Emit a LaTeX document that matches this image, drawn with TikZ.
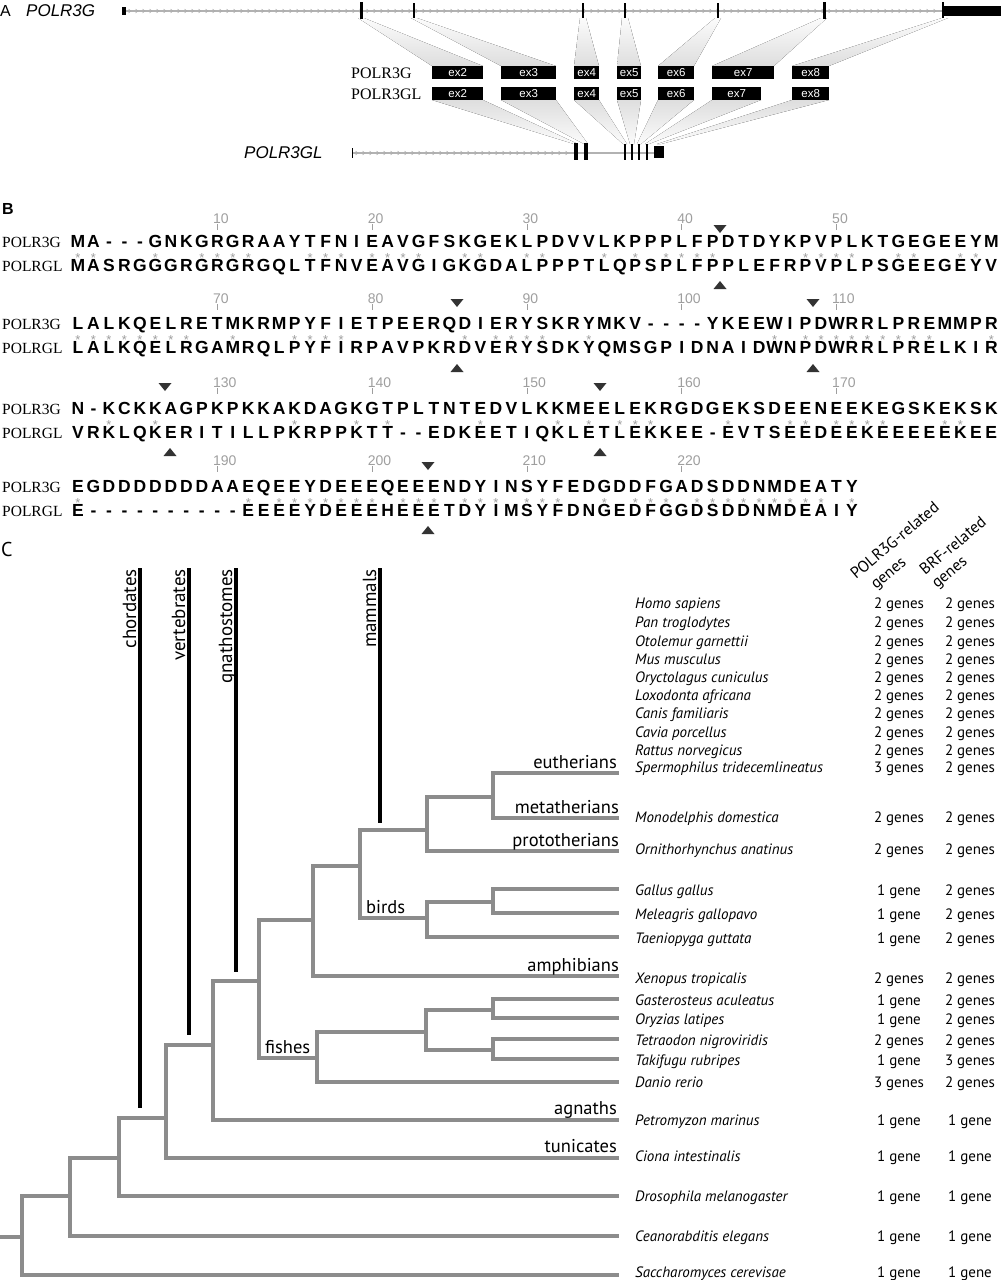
\documentclass[tikz,border=0pt]{standalone}
\usepackage{fontspec}
\setmainfont{Liberation Serif}
\newfontfamily\hv{Liberation Sans}
\newfontfamily\pts{PT Sans}
\definecolor{treegray}{gray}{0.55}
\definecolor{rulegray}{gray}{0.62}
\def\gapchar{-}
% #1 = name tag, #2 = baseline of first row, #3 = residue pairs
\newcommand\alnblock[3]{%
  \foreach \ra/\rb [count=\i] in {#3} {%
    \pgfmathsetmacro\cx{78+(\i-1)*15.48}%
    \node[res] (p#1-\i) at (\cx,#2) {\ra};%
    \node[res] (q#1-\i) at (\cx,#2+24) {\rb};%
    \ifx\ra\rb\ifx\ra\gapchar\else\node[idstar] (r#1-\i) at (\cx,#2+15) {*};\fi\fi
  }}
% #1 = baseline of number, #2 = column, #3 = number
\newcommand\rulerno[3]{%
  \pgfmathsetmacro\cx{78+(#2-1)*15.48}%
  \draw[rulegray, line width=0.8] (\cx,#1+1) -- (\cx,#1+7);
  \node[rulenum] (n#3) at (\cx-4.5,#1) {#3};}
\newcommand\tridown[2]{\fill[black!80] (#1-6.5,#2-4) -- (#1+6.5,#2-4) -- (#1,#2+4) -- cycle;}
\newcommand\triup[2]{\fill[black!80] (#1-6.5,#2+4) -- (#1+6.5,#2+4) -- (#1,#2-4) -- cycle;}
\begin{document}
\begin{tikzpicture}[x=1pt,y=-1pt,
  res/.style={font=\hv\bfseries\fontsize{17.5}{19}\selectfont, anchor=base, inner sep=0pt},
  idstar/.style={font=\hv\fontsize{13}{14}\selectfont, text=rulegray, anchor=base, inner sep=0pt},
  rulenum/.style={font=\hv\fontsize{14}{15}\selectfont, text=rulegray, anchor=base west, inner sep=0pt},
  seqname/.style={font=\fontsize{15.5}{16}\selectfont, anchor=base west, inner sep=0pt},
  boxname/.style={font=\fontsize{16}{17}\selectfont, anchor=base west, inner sep=0pt},
  genename/.style={font=\hv\itshape\fontsize{17}{18}\selectfont, anchor=base west, inner sep=0pt},
  exlabel/.style={font=\hv\fontsize{11.5}{12}\selectfont, text=white, fill=black, inner sep=0pt, minimum height=13pt, anchor=north west},
  panel/.style={font=\hv\fontsize{16}{17}\selectfont, anchor=base west, inner sep=0pt},
  treeline/.style={draw=treegray, line width=3.2pt, line cap=rect},
  bar/.style={draw=black, line width=3.2pt},
  vlabel/.style={font=\pts\fontsize{19}{20}\selectfont, rotate=90, anchor=base east, inner sep=0pt},
  clade/.style={font=\pts\fontsize{18.5}{19}\selectfont, anchor=base east, inner sep=0pt},
  cladel/.style={font=\pts\fontsize{18.5}{19}\selectfont, anchor=base west, inner sep=0pt},
  species/.style={font=\pts\itshape\fontsize{15}{16}\selectfont, anchor=base west, inner sep=0pt},
  count/.style={font=\pts\fontsize{15}{16}\selectfont, anchor=base, inner sep=0pt},
  hdr/.style={font=\pts\fontsize{16}{17}\selectfont, rotate=40, anchor=base west, inner sep=0pt}
]
\useasboundingbox (0,0) rectangle (1005,1280);

% ================= Panel A =================
\node[panel] (labA) at (0,16) {A};
\node[genename] (g1) at (26,16) {POLR3G};
% fans top
\foreach \ex/\l/\r in {361/432/483, 414/501/556, 583/574/599, 625/617/641, 718/658/694, 824/712/774, 945/792/829}
  {\fill[top color=gray!3, bottom color=gray!26] (\ex-3,18) -- (\ex+3,18) -- (\r,66) -- (\l,66) -- cycle;}
% fans bottom
\foreach \bx/\l/\r in {576/432/483, 586/501/556, 625/574/599, 632/617/641, 639/658/694, 647/712/761, 659/792/829}
  {\fill[top color=gray!26, bottom color=gray!3] (\l,100) -- (\r,100) -- (\bx+2,144) -- (\bx-2,144) -- cycle;}
% top gene
\draw[gray!60, line width=1.2] (124,11) -- (945,11);
\foreach \x in {130,137,...,940} {\draw[gray!65, line width=0.5] (\x-1.5,9) -- (\x+1,11) -- (\x-1.5,13);}
\fill (122,7) rectangle (126,15);
\fill (359.5,2) rectangle (363,19);
\fill (822.5,2) rectangle (826,19);
\foreach \x in {414,583,625,718} {\draw[line width=1.3] (\x,3) -- (\x,18);}
\draw[line width=1.3] (943,2) -- (943,18);
\fill (943,6) rectangle (1001,16);
% exon boxes
\node[boxname] (r1) at (351,78) {POLR3G};
\node[boxname] (r2) at (351,99) {POLR3GL};
\foreach \n/\l/\r in {2/432/483, 3/501/556, 4/574/599, 5/617/641, 6/658/694, 7/712/774, 8/792/829}{
  \pgfmathsetmacro\w{\r-\l}
  \node[exlabel, minimum width=\w pt] (ga\n) at (\l,66) {ex\n};}
\foreach \n/\l/\r in {2/432/483, 3/501/556, 4/574/599, 5/617/641, 6/658/694, 7/712/761, 8/792/829}{
  \pgfmathsetmacro\w{\r-\l}
  \node[exlabel, minimum width=\w pt] (gb\n) at (\l,87) {ex\n};}
% bottom gene
\node[genename] (g2) at (244,158) {POLR3GL};
\draw[gray!60, line width=1.2] (352,153) -- (656,153);
\foreach \x in {357,364,...,570} {\draw[gray!65, line width=0.5] (\x-1.5,151) -- (\x+1,153) -- (\x-1.5,155);}
\draw[line width=1] (352,148) -- (352,158);
\fill (573.5,143) rectangle (578,160);
\fill (584,143) rectangle (588,160);
\foreach \x in {625,632,639,647} {\draw[line width=1.3] (\x,144) -- (\x,160);}
\fill (654,146) rectangle (664,158);

% ================= Panel B =================
\node[font=\hv\bfseries\fontsize{16}{17}\selectfont, anchor=base west, inner sep=0pt] (labB) at (2,214) {B};
\foreach \yb in {247,329,414,492}{
  \node[seqname] (na\yb) at (2,\yb) {POLR3G};
  \node[seqname] (nb\yb) at (2,\yb+24) {POLRGL};}
\alnblock{a}{247}{M/M,A/A,-/S,-/R,-/G,G/G,N/G,K/R,G/G,R/R,G/G,R/R,A/G,A/Q,Y/L,T/T,F/F,N/N,I/V,E/E,A/A,V/V,G/G,F/I,S/G,K/K,G/G,E/D,K/A,L/L,P/P,D/P,V/P,V/T,L/L,K/Q,P/P,P/S,P/P,L/L,F/F,P/P,D/P,T/L,D/E,Y/F,K/R,P/P,V/V,P/P,L/L,K/P,T/S,G/G,E/E,G/E,E/G,E/E,Y/Y,M/V}
\alnblock{b}{329}{L/L,A/A,L/L,K/K,Q/Q,E/E,L/L,R/R,E/G,T/A,M/M,K/R,R/Q,M/L,P/P,Y/Y,F/F,I/I,E/R,T/P,P/A,E/V,E/P,R/K,Q/R,D/D,I/V,E/E,R/R,Y/Y,S/S,K/D,R/K,Y/Y,M/Q,K/M,V/S,-/G,-/P,-/I,-/D,Y/N,K/A,E/I,E/D,W/W,I/N,P/P,D/D,W/W,R/R,R/R,L/L,P/P,R/R,E/E,M/L,M/K,P/I,R/R}
\alnblock{c}{414}{N/V,-/R,K/K,C/L,K/Q,K/K,A/E,G/R,P/I,K/T,P/I,K/L,K/L,A/P,K/K,D/R,A/P,G/P,K/K,G/T,T/T,P/-,L/-,T/E,N/D,T/K,E/E,D/E,V/T,L/I,K/Q,K/K,M/L,E/E,E/T,L/L,E/E,K/K,R/K,G/E,D/E,G/-,E/E,K/V,S/T,D/S,E/E,E/E,N/D,E/E,E/E,K/K,E/E,G/E,S/E,K/E,E/E,K/K,S/E,K/E}
\alnblock{d}{492}{E/E,G/-,D/-,D/-,D/-,D/-,D/-,D/-,D/-,A/-,A/-,E/E,Q/E,E/E,E/E,Y/Y,D/D,E/E,E/E,E/E,Q/H,E/E,E/E,E/E,N/T,D/D,Y/Y,I/I,N/M,S/S,Y/Y,F/F,E/D,D/N,G/G,D/E,D/D,F/F,G/G,A/G,D/D,S/S,D/D,D/D,N/N,M/M,D/D,E/E,A/A,T/I,Y/Y}
\foreach \c/\n in {10/10,20/20,30/30,40/40,50/50} {\rulerno{223}{\c}{\n}}
\foreach \c/\n in {10/70,20/80,30/90,40/100,50/110} {\rulerno{303}{\c}{\n}}
\foreach \c/\n in {10/130,20/140,30/150,40/160,50/170} {\rulerno{387}{\c}{\n}}
\foreach \c/\n in {10/190,20/200,30/210,40/220} {\rulerno{465}{\c}{\n}}
\tridown{720}{229} \triup{720}{285}
\tridown{457}{303} \triup{457}{368}
\tridown{813}{303} \triup{813}{368}
\tridown{165}{387} \triup{170}{452}
\tridown{600}{387} \triup{600}{452}
\tridown{428}{466} \triup{428}{530}

% ================= Panel C =================
\node[font=\pts\fontsize{20}{21}\selectfont, anchor=base west, inner sep=0pt] (labC) at (1,556) {C};
% tree
\draw[treeline] (617,773) -| (493,818) -- (617,818);
\draw[treeline] (493,797) -| (427,851) -- (617,851);
\draw[treeline] (617,889) -| (493,913) -- (617,913);
\draw[treeline] (493,902) -| (427,937) -- (617,937);
\draw[treeline] (427,830) -| (360,918) -- (427,918);
\draw[treeline] (360,866) -| (313,976) -- (617,976);
\draw[treeline] (617,999) -| (493,1018) -- (617,1018);
\draw[treeline] (617,1039) -| (493,1059) -- (617,1059);
\draw[treeline] (493,1010) -| (426,1050) -- (493,1050);
\draw[treeline] (426,1032) -| (317,1082) -- (617,1082);
\draw[treeline] (313,920) -| (259,1058) -- (317,1058);
\draw[treeline] (259,981) -| (213,1120) -- (617,1120);
\draw[treeline] (213,1045) -| (166,1158) -- (617,1158);
\draw[treeline] (166,1118) -| (119,1196) -- (617,1196);
\draw[treeline] (119,1158) -| (70,1236) -- (617,1236);
\draw[treeline] (70,1196) -| (22,1275) -- (617,1275);
\draw[treeline] (2,1237) -- (22,1237);
% bars
\draw[bar] (140,568) -- (140,1108);
\draw[bar] (189,568) -- (189,1035);
\draw[bar] (236,568) -- (236,972);
\draw[bar] (380,568) -- (380,823);
\node[vlabel] (vc) at (136,569) {chordates};
\node[vlabel] (vv) at (185,569) {vertebrates};
\node[vlabel] (vg) at (232,569) {gnathostomes};
\node[vlabel] (vm) at (376,569) {mammals};
% clade labels
\node[clade] (ce) at (617,768) {eutherians};
\node[clade] (cm) at (619,813) {metatherians};
\node[clade] (cp) at (619,846) {prototherians};
\node[clade] (ca) at (619,971) {amphibians};
\node[clade] (cg) at (617,1114) {agnaths};
\node[clade] (ct) at (617,1152) {tunicates};
\node[cladel] (cb) at (366,913) {birds};
\node[cladel] (cf) at (265,1053) {fishes};
% headers
\node[hdr] (h1) at (856,580) {POLR3G-related};
\node[hdr] (h2) at (876,590) {genes};
\node[hdr] (h3) at (925,576) {BRF-related};
\node[hdr] (h4) at (937,589) {genes};
% species table
\foreach \sp/\yy/\ga/\gb [count=\k] in {
 Homo sapiens/603/2 genes/2 genes,
 Pan troglodytes/622/2 genes/2 genes,
 Otolemur garnettii/641/2 genes/2 genes,
 Mus musculus/659/2 genes/2 genes,
 Oryctolagus cuniculus/677/2 genes/2 genes,
 Loxodonta africana/695/2 genes/2 genes,
 Canis familiaris/713/2 genes/2 genes,
 Cavia porcellus/732/2 genes/2 genes,
 Rattus norvegicus/750/2 genes/2 genes,
 Spermophilus tridecemlineatus/767/3 genes/2 genes,
 Monodelphis domestica/817/2 genes/2 genes,
 Ornithorhynchus anatinus/849/2 genes/2 genes,
 Gallus gallus/890/1 gene/2 genes,
 Meleagris gallopavo/914/1 gene/2 genes,
 Taeniopyga\hspace{4pt}guttata/938/1 gene/2 genes,
 Xenopus tropicalis/978/2 genes/2 genes,
 Gasterosteus\hspace{4pt}aculeatus/1000/1 gene/2 genes,
 Oryzias latipes/1019/1 gene/2 genes,
 Tetraodon nigroviridis/1040/2 genes/2 genes,
 Takifugu rubripes/1060/1 gene/3 genes,
 Danio rerio/1082/3 genes/2 genes,
 Petromyzon marinus/1120/1 gene/1 gene,
 Ciona intestinalis/1156/1 gene/1 gene,
 Drosophila melanogaster/1196/1 gene/1 gene,
 Ceanorabditis elegans/1236/1 gene/1 gene,
 Saccharomyces cerevisae/1272/1 gene/1 gene}{
  \node[species] (sp\k) at (635,\yy+5) {\sp};
  \node[count] (ca\k) at (899,\yy+5) {\ga};
  \node[count] (cb\k) at (970,\yy+5) {\gb};
}
\end{tikzpicture}
\end{document}
